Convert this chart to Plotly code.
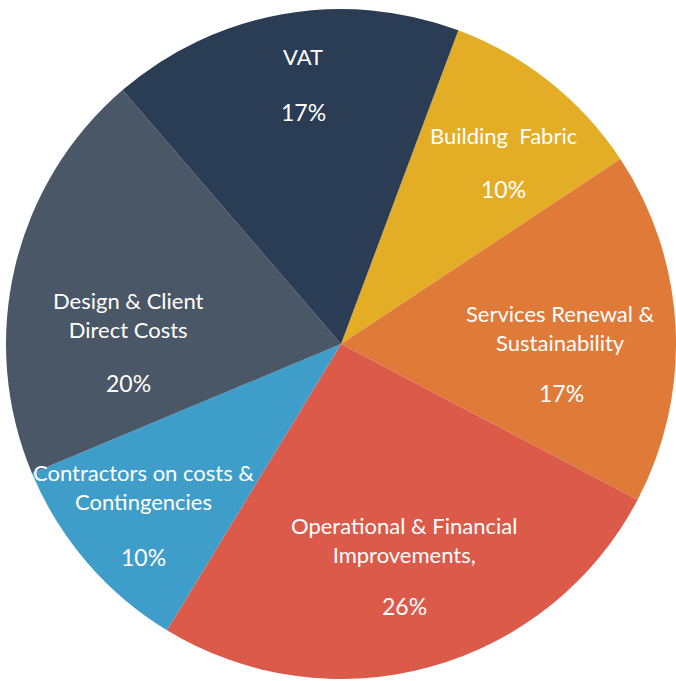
import plotly.graph_objects as go

# Budget breakdown, clockwise from the Building Fabric slice
categories = [
    "Building Fabric",
    "Services Renewal & Sustainability",
    "Operational & Financial Improvements,",
    "Contractors on costs & Contingencies",
    "Design & Client Direct Costs",
    "VAT",
]
shares = [10, 17, 26, 10, 20, 17]

# Line-broken label text drawn inside each slice
label_lines = [
    ["Building  Fabric"],
    ["Services Renewal &", "Sustainability"],
    ["Operational & Financial", "Improvements,"],
    ["Contractors on costs &", "Contingencies"],
    ["Design & Client", "Direct Costs"],
    ["VAT"],
]

colors = ["#E3AD26", "#DF7A38", "#DC5A4A", "#3F9EC9", "#4A5767", "#2B3C55"]

W, H = 676, 681

# Pixel anchors for the name block and the percentage of each slice
name_pos = [(503, 135), (560, 328), (404, 540), (143, 487), (128, 315), (303, 57)]
pct_pos = [(503, 189), (561, 393), (404, 606), (143, 557), (128, 383), (303, 112)]

fig = go.Figure(
    go.Pie(
        labels=categories,
        values=shares,
        sort=False,
        direction="clockwise",
        rotation=20.5,
        marker=dict(colors=colors, line=dict(width=0)),
        textinfo="none",
        showlegend=False,
        domain=dict(x=[(341 - 335) / W, (341 + 335) / W],
                    y=[(H - 344 - 335) / H, (H - 344 + 335) / H]),
    )
)

font = dict(family="Lato, Inter, sans-serif", size=22, color="white")
pct_font = dict(family="Lato, Inter, sans-serif", size=23, color="white")
total = sum(shares)
for lines, share, (nx, ny), (px, py) in zip(label_lines, shares, name_pos, pct_pos):
    fig.add_annotation(
        x=nx / W, y=1 - ny / H, xref="paper", yref="paper",
        text="<br>".join(lines), showarrow=False, font=font,
        xanchor="center", yanchor="middle", align="center",
    )
    fig.add_annotation(
        x=px / W, y=1 - py / H, xref="paper", yref="paper",
        text=f"{round(100 * share / total)}%", showarrow=False, font=pct_font,
        xanchor="center", yanchor="middle",
    )

fig.update_layout(
    width=W, height=H,
    margin=dict(l=0, r=0, t=0, b=0),
    paper_bgcolor="white",
    plot_bgcolor="white",
)

fig.write_html("out.html")
